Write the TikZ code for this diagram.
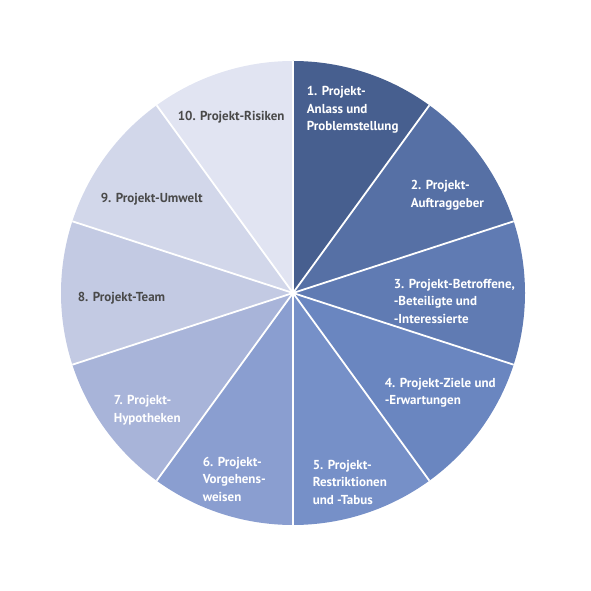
\documentclass[tikz,border=0pt]{standalone}
\usepackage{fontspec}
\setmainfont{PT Sans}
\definecolor{seg1}{HTML}{475F8F}
\definecolor{seg2}{HTML}{5670A5}
\definecolor{seg3}{HTML}{607BB3}
\definecolor{seg4}{HTML}{6A86C0}
\definecolor{seg5}{HTML}{7690C8}
\definecolor{seg6}{HTML}{8A9ED0}
\definecolor{seg7}{HTML}{A8B4D9}
\definecolor{seg8}{HTML}{C3CAE3}
\definecolor{seg9}{HTML}{D2D7EA}
\definecolor{seg10}{HTML}{E1E4F2}
\definecolor{cdark}{HTML}{4A4A4A}
\tikzset{
  every picture/.style={line width=1.6pt},
  spoke/.style={draw=white, line width=1.8pt},
  lab/.style={text=white, align=left, anchor=west, inner sep=0pt,
    font=\bfseries\fontsize{13}{17.5}\selectfont},
  labdark/.style={lab, text=cdark},
}

\begin{document}
\begin{tikzpicture}[x=1pt, y=1pt]
  \useasboundingbox (0,0) rectangle (590,591);
  \def\R{232}
  \coordinate (c) at (293,298);
  % ten equal slices, clockwise from 12 o'clock
  \foreach \i in {1,...,10} {
    \fill[seg\i] (c) -- ++(126-36*\i:\R) arc[start angle=126-36*\i, end angle=90-36*\i, radius=\R] -- cycle;
  }
  \foreach \i in {1,...,10} {
    \draw[spoke] (c) -- ++(90-36*\i:\R);
  }
  % labels
  \node[lab] (l1) at (306,481) {1. Projekt-\\Anlass und\\Problemstellung};
  \node[lab] (l2) at (410,396) {2. Projekt-\\Auftraggeber};
  \node[lab] (l3) at (393,290) {3. Projekt-Betroffene,\\-Beteiligte und\\-Interessierte};
  \node[lab] (l4) at (384,198) {4. Projekt-Ziele und\\-Erwartungen};
  \node[lab] (l5) at (312,109) {5. Projekt-\\Restriktionen\\und -Tabus};
  \node[lab] (l6) at (202,112) {6. Projekt-\\Vorgehens-\\weisen};
  \node[lab] (l7) at (113,181) {7. Projekt-\\Hypotheken};
  \node[labdark] (l8) at (77,293) {8. Projekt-Team};
  \node[labdark] (l9) at (100,392) {9. Projekt-Umwelt};
  \node[labdark] (l10) at (177,474) {10. Projekt-Risiken};
\end{tikzpicture}
\end{document}
